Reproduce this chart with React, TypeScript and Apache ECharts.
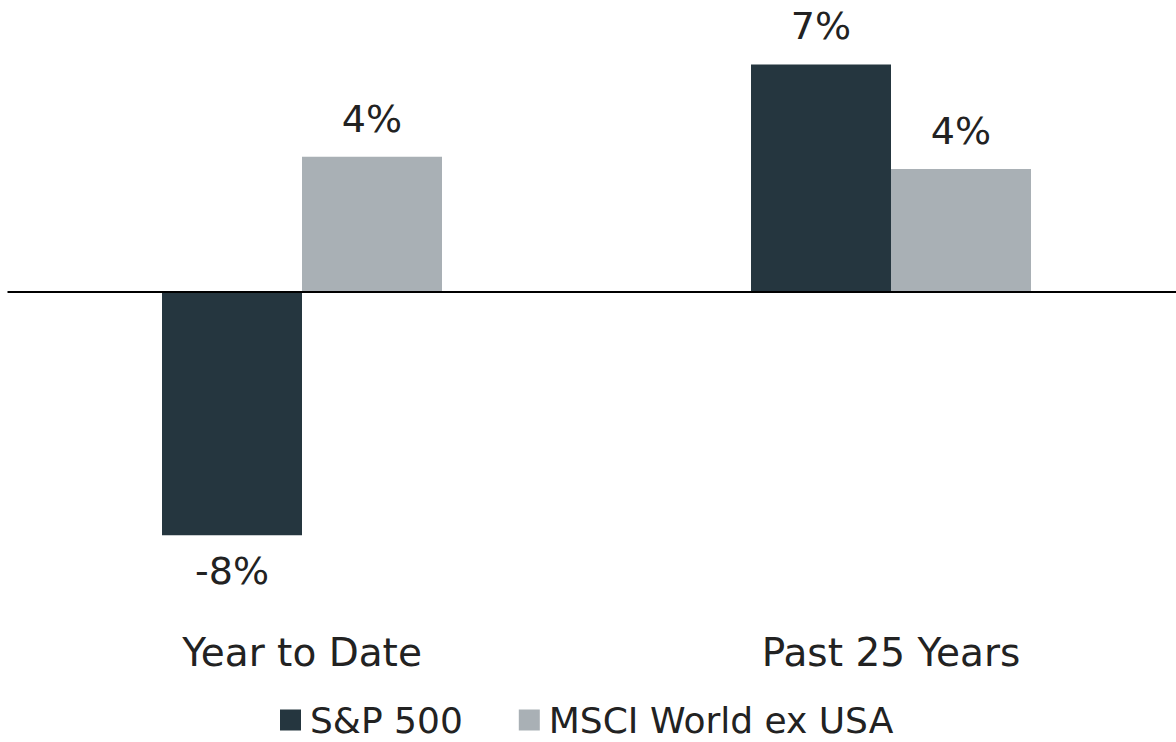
import React, { useEffect, useRef } from "react";
import * as echarts from "echarts";

const categories = ["Year to Date", "Past 25 Years"];
const seriesNames = ["S&P 500", "MSCI World ex USA"];
const sp500 = [-7.9, 7.4];
const msci = [4.4, 4.0];
const colors = ["#25363F", "#A9B0B5"];

const FONT = "DejaVu Sans";

export default function App() {
  const ref = useRef<HTMLDivElement>(null);
  useEffect(() => {
    const chart = echarts.init(ref.current!, null, { renderer: "svg" });
    const mkData = (vals: number[]) =>
      vals.map((v) => ({
        value: v,
        label: { position: v < 0 ? "bottom" : "top", distance: v < 0 ? 17 : 19 },
      }));
    const labelCfg = {
      show: true,
      fontFamily: FONT,
      fontSize: 38,
      color: "#222",
      formatter: (p: any) => Math.round(p.value) + "%",
    };
    chart.setOption({
      animation: false,
      grid: { left: 7.5, right: 0.5, top: 46, bottom: 142, containLabel: false },
      legend: {
        data: seriesNames,
        top: 702,
        left: 280,
        padding: 0,
        itemWidth: 21,
        itemHeight: 21,
        itemGap: 56,
        icon: "rect",
        textStyle: {
          fontFamily: FONT,
          fontSize: 36,
          color: "#222",
          padding: [0, 0, 0, 4],
        },
      },
      xAxis: {
        type: "category",
        data: categories,
        axisLine: { show: false, onZero: false },
        axisTick: { show: false },
        axisLabel: { fontFamily: FONT, fontSize: 39, color: "#222", margin: 33 },
      },
      yAxis: {
        type: "value",
        min: -10,
        max: 8,
        show: false,
        splitLine: { show: false },
      },
      series: [
        {
          name: seriesNames[0],
          type: "bar",
          data: mkData(sp500),
          barWidth: 140,
          barGap: "0%",
          itemStyle: { color: colors[0] },
          label: labelCfg,
          markLine: {
            symbol: "none",
            silent: true,
            label: { show: false },
            lineStyle: { color: "#000", width: 2, type: "solid" },
            data: [{ yAxis: 0 }],
          },
        },
        {
          name: seriesNames[1],
          type: "bar",
          data: mkData(msci),
          barWidth: 140,
          barGap: "0%",
          itemStyle: { color: colors[1] },
          label: labelCfg,
        },
      ],
    });
    return () => chart.dispose();
  }, []);
  return (
    <div
      style={{ position: "absolute", left: 0, top: 0, width: 1176, height: 742, overflow: "hidden", background: "#fff" }}
    >
      <div ref={ref} style={{ position: "absolute", left: 0, top: 0, width: 1186, height: 742 }} />
    </div>
  );
}
